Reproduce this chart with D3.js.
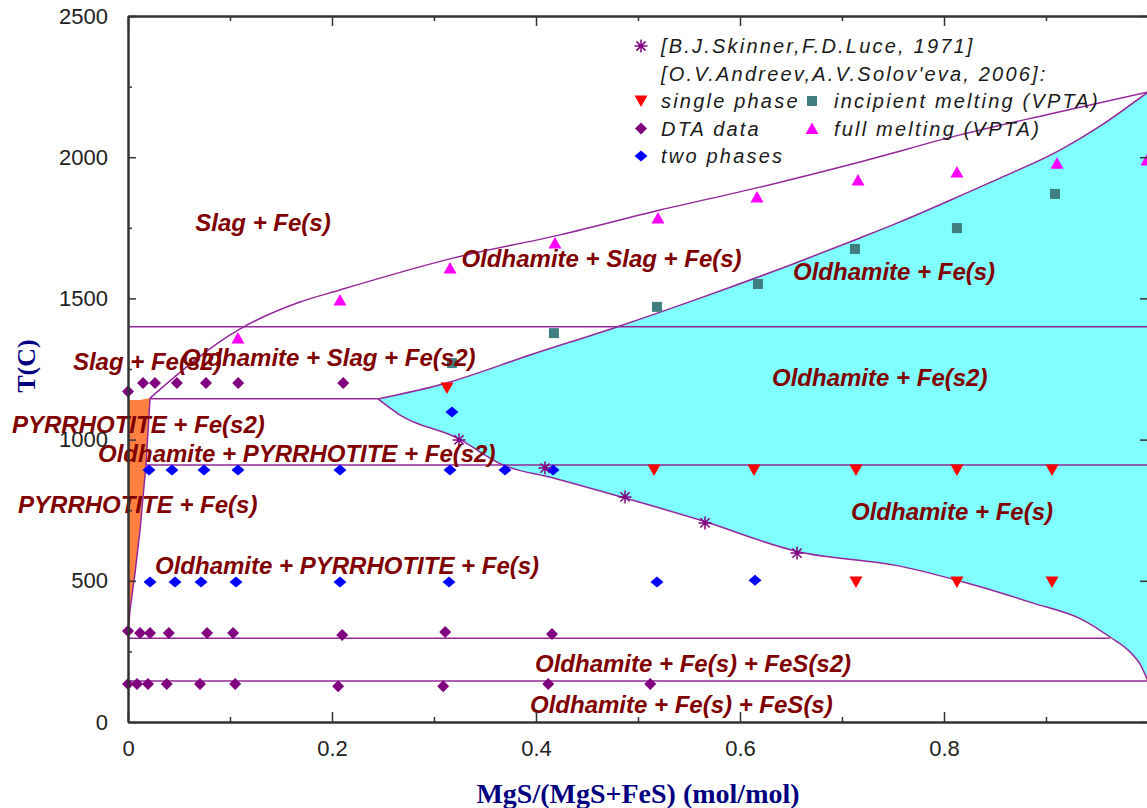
<!DOCTYPE html>
<html><head><meta charset="utf-8">
<script src="https://cdn.jsdelivr.net/npm/d3@7"></script>
<style>
html,body{margin:0;padding:0;background:#fff;}
svg{display:block;}
</style></head>
<body>
<svg id="chart" width="1147" height="808"></svg>
<script>
// ---------- data ----------
const xTicksMajor = [0, 0.2, 0.4, 0.6, 0.8];
const xTicksMinor = [0.1, 0.3, 0.5, 0.7, 0.9];
const yTicksMajor = [0, 500, 1000, 1500, 2000, 2500];
const yTicksMinor = [250, 750, 1250, 1750, 2250];

// phase boundaries [x, T]
const slagCurve = [[0.0216,1147],[0.1078,1388],[0.1686,1487],[0.2078,1530],[0.3157,1640],[0.4235,1725],[0.5216,1813],[0.6196,1894],[0.7176,1983],[0.8157,2079],[0.9039,2153],[1.0,2231]];
const cyanUpper = [[0.2451,1144],[0.3088,1197],[0.3971,1303],[0.4794,1399],[0.5608,1501],[0.6520,1622],[0.7176,1714],[0.7569,1771],[0.8157,1863],[0.8549,1926],[0.9137,2025],[0.9529,2110],[1.0,2231]];
const cyanLower = [[0.2451,1144],[0.2667,1087],[0.3225,1006],[0.3676,910],[0.4167,864],[0.4873,793],[0.5608,715],[0.6559,604],[0.7569,552],[0.8225,492],[0.8873,421],[0.9363,361],[0.9627,301],[0.9824,248],[0.9922,205],[1.0,145]];
const pyrrhotiteEdge = [[0.0216,1147],[0.0176,910],[0.0118,680],[0.0069,528],[0.002,397],[0,315]];
const pyrrhotiteTop = [[0,1140],[0.0118,1140]];
const isotherms = [
  {T:1400, x0:0, x1:1},
  {T:1145, x0:0.0216, x1:0.2451},
  {T:910, x0:0.0176, x1:1},
  {T:297, x0:0, x1:0.9627},
  {T:145, x0:0, x1:1}
];

// experimental points [x, T]
const skinnerLuce = [[0.3245,999],[0.4088,899],[0.4873,797],[0.5657,705],[0.6559,598]];
const singlePhase = [[0.3127,1183],[0.5157,892],[0.6137,892],[0.7137,892],[0.8127,892],[0.9059,892],[0.7137,496],[0.8127,496],[0.9059,496]];
const dtaData = [
  [0.0,1170],[0.0147,1200],[0.0265,1200],[0.048,1200],[0.0765,1200],[0.108,1200],[0.211,1200],
  [0.0,322],[0.0118,315],[0.0216,315],[0.040,315],[0.0775,315],[0.103,315],[0.21,308],[0.311,319],[0.4157,312],
  [0.0,135],[0.0088,135],[0.0196,135],[0.038,135],[0.0706,135],[0.105,135],[0.206,127],[0.309,127],[0.412,135],[0.512,135]
];
const twoPhases = [
  [0.0206,892],[0.0431,892],[0.0745,892],[0.1078,892],[0.2078,892],[0.3157,892],[0.3696,892],[0.4167,892],[0.3176,1098],
  [0.0216,496],[0.0461,496],[0.0716,496],[0.1059,496],[0.2078,496],[0.3147,496],[0.5186,496],[0.6147,502]
];
const incipientMelting = [[0.3176,1271],[0.4176,1377],[0.5186,1470],[0.6176,1551],[0.7127,1675],[0.8127,1749],[0.9088,1870]];
const fullMelting = [[0.1078,1360],[0.2078,1494],[0.3157,1608],[0.4186,1696],[0.5196,1785],[0.6167,1859],[0.7157,1919],[0.8127,1948],[0.9108,1979],[0.999,1990]];

// region labels
const regionLabels = [
  {text:"Slag + Fe(s)", x:0.066, T:1740},
  {text:"Oldhamite + Slag + Fe(s)", x:0.327, T:1611},
  {text:"Oldhamite + Fe(s)", x:0.652, T:1565},
  {text:"Slag + Fe(s2)", x:-0.054, T:1246},
  {text:"Oldhamite + Slag + Fe(s2)", x:0.053, T:1260},
  {text:"Oldhamite + Fe(s2)", x:0.6314, T:1190},
  {text:"PYRRHOTITE + Fe(s2)", x:-0.1137, T:1023},
  {text:"Oldhamite + PYRRHOTITE + Fe(s2)", x:-0.0294, T:920},
  {text:"PYRRHOTITE + Fe(s)", x:-0.1078, T:740},
  {text:"Oldhamite + PYRRHOTITE + Fe(s)", x:0.0265, T:524},
  {text:"Oldhamite + Fe(s)", x:0.7088, T:715},
  {text:"Oldhamite + Fe(s) + FeS(s2)", x:0.3990, T:177},
  {text:"Oldhamite + Fe(s) + FeS(s)", x:0.3941, T:32}
];

// legend
const legendItems = [
  {text:"[B.J.Skinner,F.D.Luce, 1971]", sym:"asterisk", col:0, row:0},
  {text:"[O.V.Andreev,A.V.Solov'eva, 2006]:", sym:null, col:0, row:1},
  {text:"single phase", sym:"down", col:0, row:2},
  {text:"DTA data", sym:"dta", col:0, row:3},
  {text:"two phases", sym:"two", col:0, row:4},
  {text:"incipient melting (VPTA)", sym:"square", col:1, row:2},
  {text:"full melting (VPTA)", sym:"up", col:1, row:3}
];

// ---------- drawing ----------
const svg = d3.select("#chart");
const x = d3.scaleLinear().domain([0,1]).range([128,1148]);
const y = d3.scaleLinear().domain([0,2500]).range([722,16]);

const PURPLE = "#93289a";
const styles = {
  asterisk:{color:"#800080"},
  down:{color:"#ff0000"},
  dta:{color:"#800080"},
  two:{color:"#0000ff"},
  square:{color:"#3f7f7f"},
  up:{color:"#ff00ff"}
};
function symPath(kind){
  switch(kind){
    case "asterisk": return "M-6.5,0H6.5M0,-6.5V6.5M-4.6,-4.6L4.6,4.6M-4.6,4.6L4.6,-4.6";
    case "down": return "M-6.5,-5.5L6.5,-5.5L0,6Z";
    case "up": return "M-6.5,5.5L6.5,5.5L0,-6Z";
    case "dta": return "M0,-6L6,0L0,6L-6,0Z";
    case "two": return "M0,-5.5L6.5,0L0,5.5L-6.5,0Z";
    case "square": return "M-5,-5H5V5H-5Z";
  }
}

const line = d3.line().x(d=>x(d[0])).y(d=>y(d[1]));
const smooth = d3.line().x(d=>x(d[0])).y(d=>y(d[1])).curve(d3.curveMonotoneX);

// cyan region
const cyanPath = smooth(cyanUpper) + "L" + x(1) + "," + y(145) + smooth(cyanLower.slice().reverse().map(d=>d)).replace(/^M/,"L") + "Z";
svg.append("path").attr("d", cyanPath).attr("fill","#80ffff").attr("stroke","none");

// orange region
const orangePoly = pyrrhotiteTop.concat(pyrrhotiteEdge);
svg.append("path").attr("d", line(orangePoly)+"Z").attr("fill","#ff8040").attr("stroke","none");

// boundaries
const g = svg.append("g").attr("fill","none").attr("stroke",PURPLE).attr("stroke-width",1.5);
g.append("path").attr("d", smooth(slagCurve));
g.append("path").attr("d", smooth(cyanUpper));
g.append("path").attr("d", smooth(cyanLower));
g.append("path").attr("d", line(pyrrhotiteEdge));
g.selectAll("line.iso").data(isotherms).enter().append("line")
  .attr("x1",d=>x(d.x0)).attr("x2",d=>x(d.x1))
  .attr("y1",d=>y(d.T)).attr("y2",d=>y(d.T));

// markers
function drawPoints(data, kind){
  const s = styles[kind];
  const sel = svg.append("g").selectAll("path").data(data).enter().append("path")
    .attr("transform", d=>`translate(${x(d[0])},${y(d[1])})`)
    .attr("d", symPath(kind));
  if(kind==="asterisk") sel.attr("fill","none").attr("stroke",s.color).attr("stroke-width",1.5);
  else sel.attr("fill",s.color).attr("stroke","none");
}
drawPoints(dtaData,"dta");
drawPoints(twoPhases,"two");
drawPoints(singlePhase,"down");
drawPoints(incipientMelting,"square");
drawPoints(fullMelting,"up");
drawPoints(skinnerLuce,"asterisk");

// region labels
svg.append("g").selectAll("text").data(regionLabels).enter().append("text")
  .attr("x",d=>x(d.x)).attr("y",d=>y(d.T))
  .attr("font-family","'Liberation Sans', Arial, sans-serif")
  .attr("font-size",24).attr("font-style","italic").attr("font-weight","bold")
  .attr("fill","#800000")
  .text(d=>d.text);

// legend
const lg = svg.append("g");
const colX = [641, 812], textX = [661, 834];
const rowY = r => 46 + r*27.5;
legendItems.forEach(it=>{
  if(it.sym){
    const s = styles[it.sym];
    const p = lg.append("path").attr("transform",`translate(${colX[it.col]},${rowY(it.row)})`).attr("d",symPath(it.sym));
    if(it.sym==="asterisk") p.attr("fill","none").attr("stroke",s.color).attr("stroke-width",1.5);
    else p.attr("fill",s.color);
  }
  lg.append("text").attr("x",textX[it.col]).attr("y",rowY(it.row)+7)
    .attr("font-family","'Liberation Sans', Arial, sans-serif").attr("font-size",20)
    .attr("font-style","italic").attr("letter-spacing",2.2).attr("fill","#1a1a1a")
    .text(it.text);
});

// axes
const AX = "#333";
function styleAxis(sel){
  sel.selectAll(".domain").attr("stroke",AX).attr("stroke-width",2);
  sel.selectAll(".tick line").attr("stroke",AX).attr("stroke-width",1.5);
  sel.selectAll("text").attr("font-family","'Liberation Sans', Arial, sans-serif").attr("font-size",22).attr("fill","#222");
}
const fmtX = d => d===0 ? "0" : d3.format(".1f")(d);
svg.append("g").attr("transform","translate(0,722)")
  .call(d3.axisBottom(x).tickValues(xTicksMajor).tickFormat(fmtX).tickSize(-10).tickSizeOuter(0).tickPadding(18))
  .call(styleAxis);
svg.append("g").attr("transform","translate(0,722)")
  .call(d3.axisBottom(x).tickValues(xTicksMinor).tickFormat("").tickSize(-5).tickSizeOuter(0))
  .call(styleAxis);
svg.append("g").attr("transform","translate(0,16)")
  .call(d3.axisTop(x).tickValues(xTicksMajor.concat([1])).tickFormat("").tickSize(-10).tickSizeOuter(0))
  .call(styleAxis);
svg.append("g").attr("transform","translate(0,16)")
  .call(d3.axisTop(x).tickValues(xTicksMinor).tickFormat("").tickSize(-5).tickSizeOuter(0))
  .call(styleAxis);
svg.append("g").attr("transform","translate(128,0)")
  .call(d3.axisLeft(y).tickValues(yTicksMajor).tickFormat(d3.format("d")).tickSize(-8).tickSizeOuter(0).tickPadding(20))
  .call(styleAxis);
svg.append("g").attr("transform","translate(128,0)")
  .call(d3.axisLeft(y).tickValues(yTicksMinor).tickFormat("").tickSize(-4).tickSizeOuter(0))
  .call(styleAxis);
svg.append("g").attr("transform","translate(1148,0)")
  .call(d3.axisRight(y).tickValues(yTicksMajor).tickFormat("").tickSize(-8).tickSizeOuter(0))
  .call(styleAxis);

// axis titles
svg.append("text").attr("x",638).attr("y",803).attr("text-anchor","middle")
  .attr("font-family","'Liberation Serif', 'Times New Roman', serif").attr("font-weight","bold")
  .attr("font-size",28).attr("fill","#000080")
  .text("MgS/(MgS+FeS) (mol/mol)");
svg.append("text").attr("transform","translate(26,366) rotate(-90)").attr("text-anchor","middle")
  .attr("dominant-baseline","central")
  .attr("font-family","'Liberation Serif', 'Times New Roman', serif").attr("font-weight","bold")
  .attr("font-size",26).attr("fill","#000080")
  .text("T(C)");
</script>
</body></html>
